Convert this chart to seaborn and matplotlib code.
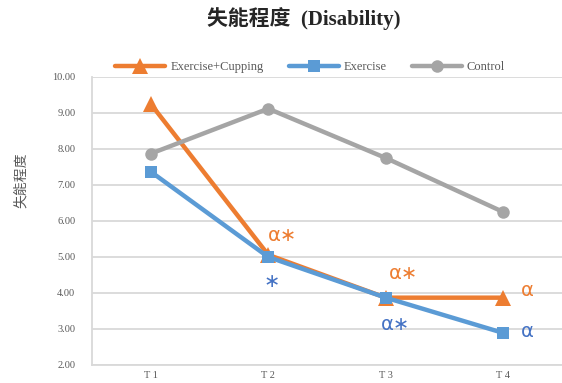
import matplotlib
matplotlib.use("Agg")
import matplotlib.pyplot as plt
import seaborn as sns
import pandas as pd

# Disability scores by time point and group
times = ["T 1", "T 2", "T 3", "T 4"]
groups = ["Exercise+Cupping", "Exercise", "Control"]
cupping = [9.25, 5.06, 3.87, 3.87]
exercise = [7.37, 5.00, 3.87, 2.89]
control = [7.87, 9.12, 7.75, 6.25]

# significance marks per group at each time point
cupping_marks = ["", "α∗", "α∗", "α"]
exercise_marks = ["", "∗", "α∗", "α"]

colors = {"Exercise+Cupping": "#ED7D31", "Exercise": "#5B9BD5", "Control": "#A5A5A5"}
mark_colors = {"Exercise+Cupping": "#ED7D31", "Exercise": "#4472C4"}
markers = {"Exercise+Cupping": "^", "Exercise": "s", "Control": "o"}

rows = []
for g, vals in zip(groups, [cupping, exercise, control]):
    for t, v in zip(times, vals):
        rows.append({"time": t, "score": v, "group": g})
df = pd.DataFrame(rows)

sns.set_style("white")
plt.rcParams["font.family"] = ["Liberation Serif", "Noto Sans CJK TC", "DejaVu Sans"]

fig = plt.figure(figsize=(5.62, 3.83), dpi=100)
ax = fig.add_axes([0.1637, 0.047, 0.8363, 0.752])

sns.lineplot(data=df, x="time", y="score", hue="group", style="group",
             hue_order=groups, style_order=groups, palette=colors,
             markers=markers, dashes=False, linewidth=3.2, markersize=9,
             markeredgewidth=0, ax=ax, sort=False)

# triangles read smaller than squares at equal size, so enlarge them a bit
for ln in ax.lines:
    if ln.get_marker() == "^":
        ln.set_markersize(11)

ax.set_xlim(-0.5, 3.5)
ax.set_ylim(2, 10)
ax.set_yticks([2, 3, 4, 5, 6, 7, 8, 9, 10])
ax.set_yticklabels([f"{v:.2f}" for v in ax.get_yticks()])
ax.yaxis.grid(True, color="#D9D9D9", linewidth=1.3)
ax.set_axisbelow(True)
for s in ["top", "right"]:
    ax.spines[s].set_visible(False)
for s in ["left", "bottom"]:
    ax.spines[s].set_color("#D9D9D9")
    ax.spines[s].set_linewidth(1.3)
ax.tick_params(axis="y", length=0, labelsize=7.5, labelcolor="#595959", pad=12)
ax.tick_params(axis="x", length=0, labelsize=7.5, labelcolor="#595959", pad=4)
ax.set_xlabel("")
ax.set_ylabel("失能程度", fontsize=10, color="#595959",
              family=["Noto Sans CJK TC"])
ax.yaxis.set_label_coords(-0.137, 0.64)

# significance annotations
offsets_c = [(0, 0), (14, 19), (18, 24), (24, 7)]
offsets_e = [(0, 0), (3, -25), (10, -27), (24, 1)]
for i, (txt, (dx, dy)) in enumerate(zip(cupping_marks, offsets_c)):
    if txt:
        ax.annotate(txt, (i, cupping[i]), xytext=(dx * 0.72, dy * 0.72),
                    textcoords="offset points", ha="center", va="center",
                    fontsize=14, color=mark_colors["Exercise+Cupping"],
                    family=["DejaVu Sans"])
for i, (txt, (dx, dy)) in enumerate(zip(exercise_marks, offsets_e)):
    if txt:
        ax.annotate(txt, (i, exercise[i]), xytext=(dx * 0.72, dy * 0.72),
                    textcoords="offset points", ha="center", va="center",
                    fontsize=14, color=mark_colors["Exercise"],
                    family=["DejaVu Sans"])

handles, labels = ax.get_legend_handles_labels()
ax.legend(handles, labels, loc="center", bbox_to_anchor=(0.552, 0.825),
          bbox_transform=fig.transFigure, ncol=3, frameon=False,
          fontsize=9, handlelength=4, columnspacing=2.0, handletextpad=0.4,
          labelcolor="#595959")

fig.text(0.54, 0.952, "失能程度  (Disability)", ha="center", va="center",
         fontsize=15, fontweight="bold",
         family=["Liberation Serif", "Noto Sans CJK TC"])

fig.savefig("out.png", dpi=100)
